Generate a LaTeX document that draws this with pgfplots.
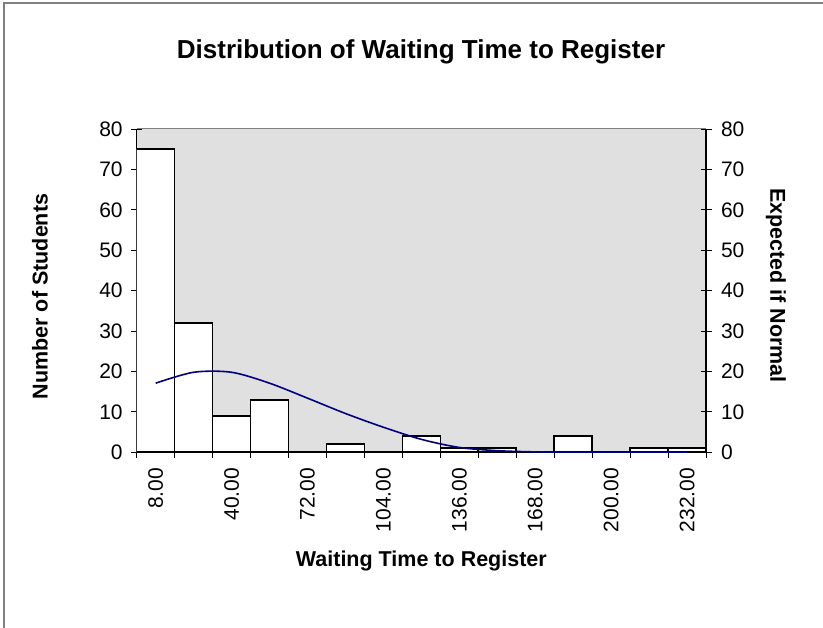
\documentclass[border=0pt]{standalone}
\usepackage{fontspec}
\setmainfont{Liberation Sans}
\usepackage{pgfplots}
\usepackage{pgfplotstable}
\pgfplotsset{compat=1.18}
\definecolor{plotbg}{HTML}{E0E0E0}
\definecolor{framegray}{HTML}{808080}
\definecolor{curveblue}{HTML}{000080}

% histogram counts, one row per bin (bins 8, 24, ..., 232)
\pgfplotstableread{
x count
0 75
1 32
2 9
3 13
4 0
5 2
6 0
7 4
8 1
9 1
10 0
11 4
12 0
13 1
14 1
}\counts

% expected counts if normal
\pgfplotstableread{
x normal
0 17.1
1 19.8
2 19.8
3 17.1
4 13.4
5 9.6
6 6.2
7 3.2
8 1.2
9 0.4
10 0.1
11 0
12 0
13 0
14 0
}\normalfit

\pgfplotsset{
  hist/.style={
    at={(136.7pt,175.7pt)}, anchor=south west,
    scale only axis, width=569.3pt, height=323.3pt,
    xmin=-0.5, xmax=14.5, ymin=0, ymax=80,
    ytick={0,10,...,80},
    tick align=center, major tick length=11pt,
    tick style={black, line width=0.8pt},
    axis line style={-, black, line width=1.4pt},
    ticklabel style={font=\fontsize{21}{25}\selectfont},
    /pgf/number format/assume math mode=true,
    label style={font=\bfseries\fontsize{21.5}{25}\selectfont},
  },
}

\begin{document}
\begin{tikzpicture}[x=1pt,y=1pt]
\useasboundingbox (0,0) rectangle (823,628);
\draw[framegray, line width=1.2pt] (4,0) -- (4,625) -- (823,625);
\node[font=\bfseries\fontsize{26}{30}\selectfont] at (421,576) {Distribution of Waiting Time to Register};

\begin{axis}[
  hist,
  axis background/.style={fill=plotbg},
  axis x line*=bottom, axis y line*=left,
  yticklabel style={xshift=-5pt},
  xtick={-0.5,0.5,...,14.5}, xticklabels={},
  extra x ticks={0,2,...,14},
  extra x tick labels={8.00,40.00,72.00,104.00,136.00,168.00,200.00,232.00},
  extra x tick style={major tick length=0pt, xticklabel style={rotate=90, anchor=east, xshift=-12pt}},
  xlabel={Waiting Time to Register},
  ylabel={Number of Students},
  xlabel style={at={(axis description cs:0.5,-0.336)}, anchor=center},
  ylabel style={at={(axis description cs:-0.17,0.482)}, anchor=center},
]
\addplot[ybar, bar width=1, fill=white, draw=black, line width=1.6pt] table[x=x,y=count]{\counts};
\draw[framegray, line width=1pt] (rel axis cs:0,1) -- (rel axis cs:1,1);
\end{axis}

\begin{axis}[
  hist,
  axis x line=none, axis y line*=right,
  yticklabel style={xshift=6pt},
  ylabel={Expected if Normal},
  every axis y label/.style={at={(axis description cs:1.123,0.516)}, rotate=-90, anchor=center,
    font=\bfseries\fontsize{21.5}{25}\selectfont},
]
\addplot[curveblue, line width=1.6pt, smooth, no marks] table[x=x,y=normal]{\normalfit};
\end{axis}
\end{tikzpicture}
\end{document}
